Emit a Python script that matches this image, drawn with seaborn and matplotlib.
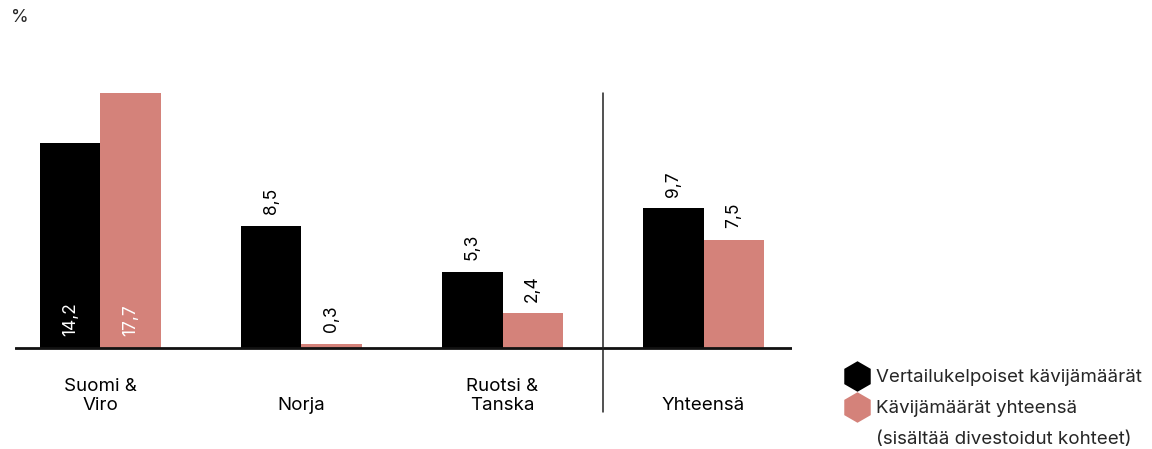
import matplotlib
matplotlib.use("Agg")
import matplotlib.pyplot as plt
from matplotlib.lines import Line2D
import seaborn as sns
import pandas as pd

# Data
categories = ["Suomi &\nViro", "Norja", "Ruotsi &\nTanska", "Yhteensä"]
series_names = ["Vertailukelpoiset kävijämäärät", "Kävijämäärät yhteensä"]
legend_note = "(sisältää divestoidut kohteet)"
comparable = [14.2, 8.5, 5.3, 9.7]
total = [17.7, 0.3, 2.4, 7.5]

BLACK = "#000000"
PINK = "#d4827a"

sns.set_theme(style="white")
plt.rcParams["font.family"] = ["Inter", "DejaVu Sans"]

df = pd.DataFrame({
    "cat": categories * 2,
    "value": comparable + total,
    "series": [series_names[0]] * 4 + [series_names[1]] * 4,
})

W, H = 1152, 449
fig = plt.figure(figsize=(W / 100, H / 100), dpi=100)
# axes box in pixels: x 15..792, y 90..420 (from top)
ax = fig.add_axes([15 / W, (H - 420) / H, (792 - 15) / W, (420 - 90) / H])

sns.barplot(data=df, x="cat", y="value", hue="series", order=categories,
            hue_order=series_names, palette=[BLACK, PINK], width=0.6,
            saturation=1, dodge=True, legend=False, ax=ax, edgecolor="none")

ax.set_xlim(-0.425, 3.44)
ax.set_ylim(-5.0, 17.91)
for s in ax.spines.values():
    s.set_visible(False)
ax.set_xticks([])
ax.set_yticks([])
ax.set_xlabel("")
ax.set_ylabel("")

# baseline and divider
ax.axhline(0, color="#111111", lw=2, zorder=5)
ax.plot([2.5, 2.5], [-4.44, 17.7], color="#222222", lw=1.1, zorder=5, clip_on=False)

# value labels
fmt = lambda v: f"{v:.1f}".replace(".", ",")
for i, (a, b) in enumerate(zip(comparable, total)):
    for j, v in enumerate((a, b)):
        x = i + (-0.15 if j == 0 else 0.15)
        if v > 12:
            ax.text(x, 0.85, fmt(v), rotation=90, ha="center", va="bottom",
                    color="white", fontsize=12.5)
        else:
            ax.text(x, v + 0.8, fmt(v), rotation=90, ha="center", va="bottom",
                    color="black", fontsize=12.5)

# category labels
for i, c in enumerate(categories):
    ax.text(i, -4.6, c, ha="center", va="bottom", fontsize=13.5,
            linespacing=1.2, color="black", clip_on=False)

# unit
fig.text(11 / W, 1 - 18 / H, "%", fontsize=13, va="center", ha="left")

# legend
handles = [Line2D([], [], marker="h", markersize=22, color=c, lw=0,
                  markeredgewidth=0) for c in (BLACK, PINK)]
handles.append(Line2D([], [], lw=0, marker=None))
leg = fig.legend(handles, series_names + [legend_note], loc="upper left",
                 bbox_to_anchor=(836 / W, 1 - 360 / H), frameon=False,
                 fontsize=13.5, handlelength=1.2, handletextpad=0.45,
                 labelspacing=0.72, borderpad=0)

fig.savefig("out.png", dpi=100)
